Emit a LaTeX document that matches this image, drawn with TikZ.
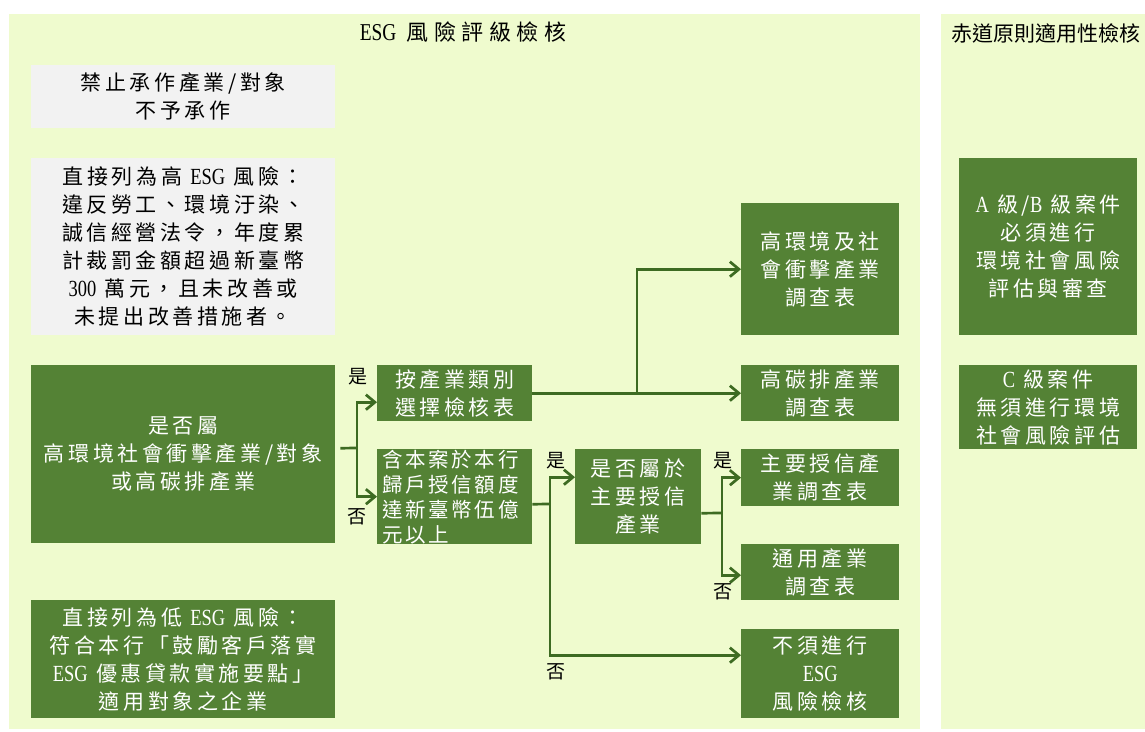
\documentclass[tikz,border=0pt]{standalone}
\usepackage{fontspec}
\usetikzlibrary{arrows.meta}
\newfontfamily\cjk[LetterSpace=17]{Noto Sans CJK TC}
\newfontfamily\cjkt[LetterSpace=25]{Noto Sans CJK TC}
\newfontfamily\cjkb[LetterSpace=13]{Noto Sans CJK TC}
\newfontfamily\cjkn{Noto Sans CJK TC}
\newfontfamily\lat[FakeStretch=0.8,Scale=1.1]{Liberation Serif}
\definecolor{panelbg}{HTML}{EFFBCE}
\definecolor{boxgray}{HTML}{F2F2F2}
\definecolor{boxgreen}{HTML}{548235}
\definecolor{linegreen}{HTML}{3D6B22}
\tikzset{
  box/.style={anchor=north west, inner sep=0pt, align=center,
    font=\fontsize{21}{28}\selectfont\cjk},
  graybox/.style={box, fill=boxgray, text=black},
  greenbox/.style={box, fill=boxgreen, text=white},
  lbl/.style={font=\fontsize{19}{20}\selectfont\cjkn, text=black, inner sep=0pt},
  conn/.style={draw=linegreen, line width=2.7pt},
  arr/.style={conn, -{Straight Barb[length=9pt,width=15pt]}},
  paneltitle/.style={font=\fontsize{22}{24}\selectfont\cjkt, text=black, inner sep=0pt}
}
\begin{document}
\begin{tikzpicture}[x=1pt,y=-1pt]
\clip (0,0) rectangle (1145,731);
\fill[white] (0,0) rectangle (1145,731);
\fill[panelbg] (9,14) rectangle (920,729);
\fill[panelbg] (941,14) rectangle (1145,729);

\node[paneltitle] (t1) at (463,32) {{\lat ESG} 風險評級檢核};
\node[paneltitle, anchor=west, font=\fontsize{21}{24}\selectfont\cjkn] (t2) at (951,33) {赤道原則適用性檢核};

% left column
\node[graybox, minimum width=304pt, minimum height=63pt] (p1) at (31,65)
  {禁止承作產業/對象\\不予承作};
\node[graybox, minimum width=304pt, minimum height=177pt] (p2) at (31,158)
  {直接列為高 {\lat ESG} 風險：\\違反勞工、環境汙染、\\誠信經營法令，年度累\\計裁罰金額超過新臺幣\\{\lat 300} 萬元，且未改善或\\未提出改善措施者。};
\node[greenbox, minimum width=304pt, minimum height=178pt] (q1) at (31,365)
  {是否屬\\高環境社會衝擊產業/對象\\或高碳排產業};
\node[greenbox, minimum width=304pt, minimum height=118pt] (q2) at (31,600)
  {直接列為低 {\lat ESG} 風險：\\符合本行「鼓勵客戶落實\\{\lat ESG} 優惠貸款實施要點」\\適用對象之企業};

% middle column
\node[greenbox, minimum width=155pt, minimum height=56pt] (b1) at (377,365)
  {按產業類別\\選擇檢核表};
\node[greenbox, minimum width=155pt, minimum height=95pt, align=left,
  font=\fontsize{20.5}{25}\selectfont\cjkb, text width=145pt] (b2) at (377,449)
  {含本案於本行\\歸戶授信額度\\達新臺幣伍億\\元以上};
\node[greenbox, minimum width=126pt, minimum height=95pt] (d1) at (575,449)
  {是否屬於\\主要授信\\產業};

% right column of the left panel
\node[greenbox, minimum width=158pt, minimum height=132pt] (h1) at (741,203)
  {高環境及社\\會衝擊產業\\調查表};
\node[greenbox, minimum width=158pt, minimum height=56pt] (h2) at (741,365)
  {高碳排產業\\調查表};
\node[greenbox, minimum width=158pt, minimum height=57pt] (m1) at (741,449)
  {主要授信產\\業調查表};
\node[greenbox, minimum width=158pt, minimum height=56pt] (m2) at (741,544)
  {通用產業\\調查表};
\node[greenbox, minimum width=158pt, minimum height=89pt] (n1) at (741,629)
  {不須進行\\{\lat ESG}\\風險檢核};

% equator principles panel
\node[greenbox, minimum width=178pt, minimum height=177pt] (e1) at (959,158)
  {{\lat A} 級/{\lat B} 級案件\\必須進行\\環境社會風險\\評估與審查};
\node[greenbox, minimum width=178pt, minimum height=84pt] (e2) at (959,365)
  {{\lat C} 級案件\\無須進行環境\\社會風險評估};

% connectors
\coordinate (j1) at (357,448);
\draw[conn] ([xshift=5pt,yshift=6pt]q1.east) -- (j1);
\draw[arr] (j1) |- ([yshift=-9pt]b1.west);
\draw[arr] (j1) |- (b2.west);

\coordinate (j2) at (637,393);
\draw[arr] (b1.east) -- (h2.west);
\draw[arr] (j2) |- (h1.west);

\coordinate (j3) at (550,504);
\draw[conn] ([yshift=-7.5pt]b2.east) -- (j3);
\draw[arr] (j3) |- ([yshift=19.5pt]d1.west);
\draw[arr] (j3) |- ([yshift=18.5pt]n1.west);

\coordinate (j4) at (722,513);
\draw[conn] ([yshift=-16.5pt]d1.east) -- (j4);
\draw[arr] (j4) |- (m1.west);
\draw[arr] (j4) |- ([yshift=-3pt]m2.west);

% yes / no labels
\node[lbl] (y1) at (358,377) {是};
\node[lbl] (n1l) at (357,517) {否};
\node[lbl] (y2) at (556,461) {是};
\node[lbl] (n2l) at (556,672) {否};
\node[lbl] (y3) at (723,461) {是};
\node[lbl] (n3l) at (723,592) {否};
\end{tikzpicture}
\end{document}
